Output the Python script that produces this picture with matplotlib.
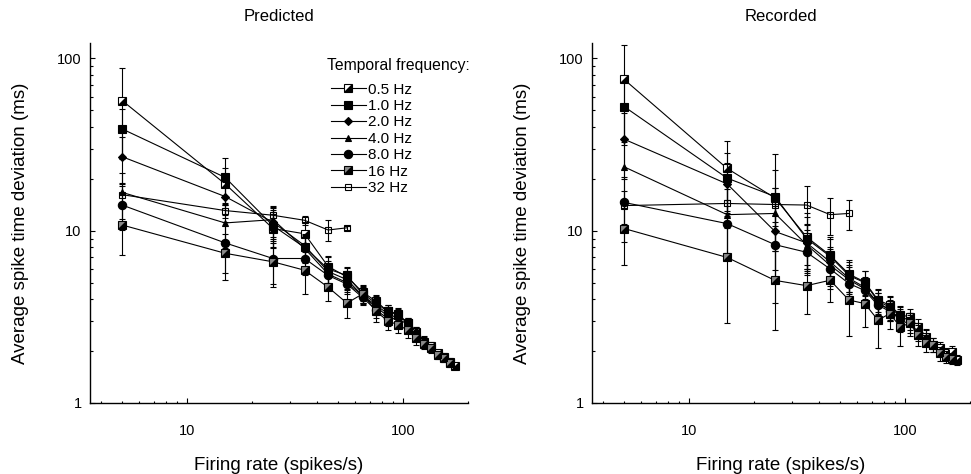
import matplotlib
matplotlib.use("Agg")
import matplotlib.pyplot as plt
from matplotlib.path import Path
from matplotlib.ticker import LogLocator, NullFormatter, FixedLocator, FixedFormatter

plt.rcParams['font.family'] = ['Liberation Sans', 'DejaVu Sans']

# firing-rate bins (spikes/s)
rates = [5, 15, 25, 35, 45, 55, 65, 75, 85, 95, 105, 115, 125, 135, 145, 155, 165, 175]

freq_labels = ['0.5 Hz', '1.0 Hz', '2.0 Hz', '4.0 Hz', '8.0 Hz', '16 Hz', '32 Hz']

# Predicted: mean spike time deviation (ms) and error
pred_05 = [57, 18.7, 10.3, 9.6, 6.2, 5.4, 4.4, 3.9, 3.4, 3.25, 2.9, 2.6, 2.27, 2.13, 1.94, 1.86, 1.74, 1.64]
pred_05_err = [31, 4.5, 2.2, 1.6, 0.9, 0.7, 0.45, 0.35, 0.3, 0.25, 0.22, 0.18, 0.15, 0.12, 0.1, 0.09, 0.08, 0.07]
pred_10 = [39, 20.4, 10.7, 8.0, 6.0, 5.5, 4.3, 3.8, 3.4, 3.3, 2.9]
pred_10_err = [12, 6.2, 2.8, 1.5, 1.0, 0.7, 0.5, 0.4, 0.3, 0.25, 0.2]
pred_20 = [26.9, 15.8, 11.2, 8.2, 5.8, 5.2, 4.2, 3.7, 3.3, 3.1, 2.85, 2.6, 2.3]
pred_20_err = [8, 3.5, 2.5, 1.4, 0.9, 0.6, 0.45, 0.35, 0.3, 0.25, 0.2, 0.18, 0.15]
pred_40 = [16.7, 11.1, 11.6, 7.9, 5.6, 5.0, 4.2, 3.6, 3.2, 3.0]
pred_40_err = [5, 3.2, 2.4, 1.3, 0.8, 0.6, 0.4, 0.35, 0.3, 0.25]
pred_80 = [14.1, 8.5, 6.9, 6.9, 5.5, 4.9, 4.1, 3.46, 3.1]
pred_80_err = [4, 2.8, 2.0, 1.4, 0.9, 0.6, 0.4, 0.35, 0.3]
pred_16 = [10.8, 7.4, 6.6, 5.9, 4.7, 3.8, 4.3, 3.4, 3.0, 2.84, 2.65, 2.37, 2.2, 2.08, 1.9, 1.82, 1.7]
pred_16_err = [3.6, 2.2, 1.9, 1.6, 0.8, 0.7, 0.4, 0.45, 0.35, 0.3, 0.25, 0.2, 0.15, 0.12, 0.1, 0.09, 0.08]
pred_32 = [16.2, 13.1, 12.3, 11.5, 10.1, 10.4]
pred_32_err = [2.5, 1.3, 0.9, 0.7, 1.4, 0.3]

# Recorded
rec_05 = [75.6, 23, 15.5, 9.2, 7.2, 5.6, 5.05, 3.96, 3.7, 3.24, 3.17, 2.77, 2.43, 2.17, 2.08, 1.94, 1.99, 1.78]
rec_05_err = [44, 10, 7, 3.5, 2.0, 1.2, 0.8, 0.6, 0.5, 0.4, 0.35, 0.3, 0.25, 0.2, 0.18, 0.15, 0.15, 0.12]
rec_10 = [52.6, 20.2, 15.8, 9.0, 7.1, 5.5, 5.0, 3.9, 3.6, 3.2, 3.0]
rec_10_err = [20, 8, 12, 3, 1.8, 1.1, 0.8, 0.6, 0.5, 0.4, 0.35]
rec_20 = [34, 18.7, 9.9, 8.5, 6.6, 5.3, 4.7, 3.8, 3.5, 3.0, 2.9, 2.6, 2.4]
rec_20_err = [14, 6, 4, 2.5, 1.5, 1.0, 0.7, 0.55, 0.45, 0.4, 0.35, 0.3, 0.25]
rec_40 = [23.5, 12.4, 12.6, 8.3, 6.3, 5.2, 4.6, 3.8, 3.46, 3.1]
rec_40_err = [10, 5, 5, 2.5, 1.5, 1.0, 0.7, 0.55, 0.45, 0.4]
rec_80 = [14.6, 11.0, 8.3, 7.5, 6.0, 4.94, 4.5, 3.7, 3.4]
rec_80_err = [6, 4, 3, 2, 1.4, 0.9, 0.7, 0.5, 0.4]
rec_16 = [10.3, 7.0, 5.15, 4.8, 5.16, 3.96, 3.78, 3.03, 3.3, 2.77, 2.9, 2.48, 2.22, 2.17, 1.94, 1.86, 1.8]
rec_16_err = [4, 4.1, 2.5, 1.5, 1.3, 1.5, 1.0, 0.95, 0.6, 0.63, 0.45, 0.35, 0.25, 0.2, 0.18, 0.15, 0.12]
rec_32 = [14.0, 14.4, 14.2, 14.1, 12.4, 12.6]
rec_32_err = [3, 4, 3.5, 4, 3, 2.5]

predicted = [(pred_05, pred_05_err), (pred_10, pred_10_err), (pred_20, pred_20_err),
             (pred_40, pred_40_err), (pred_80, pred_80_err), (pred_16, pred_16_err),
             (pred_32, pred_32_err)]
recorded = [(rec_05, rec_05_err), (rec_10, rec_10_err), (rec_20, rec_20_err),
            (rec_40, rec_40_err), (rec_80, rec_80_err), (rec_16, rec_16_err),
            (rec_32, rec_32_err)]

# lower-right black triangle for the half-filled squares
tri = Path([(-1, -1), (1, -1), (1, 1), (-1, -1)], [Path.MOVETO, Path.LINETO, Path.LINETO, Path.CLOSEPOLY])

# marker, size, face colour, half-fill overlay
styles = [
    ('s', 6, 'white', True),
    ('s', 6, 'black', False),
    ('D', 4.5, 'black', False),
    ('^', 5, 'black', False),
    ('o', 6, 'black', False),
    ('s', 6, '#8a8a8a', True),
    ('s', 5, 'none', False),
]

fig = plt.figure(figsize=(9.71, 4.74), dpi=100)
ax1 = fig.add_axes([90 / 971, 71 / 474, 378 / 971, 360 / 474])
ax2 = fig.add_axes([592 / 971, 71 / 474, 378 / 971, 360 / 474])


def draw(ax, data, title):
    handles = []
    for (y, e), (m, ms, fc, half) in zip(data, styles):
        x = rates[:len(y)]
        ax.errorbar(x, y, yerr=e, fmt='none', ecolor='black', elinewidth=0.8,
                    capsize=2.5, capthick=0.8)
        ln, = ax.plot(x, y, '-', color='black', lw=0.8, marker=m, ms=ms,
                      mfc=fc, mec='black', mew=0.8)
        if half:
            ov, = ax.plot(x, y, ls='none', marker=tri, ms=ms, color='black', mew=0)
            handles.append((ln, ov))
        else:
            handles.append(ln)
    ax.set_xscale('log')
    ax.set_yscale('log')
    ax.set_xlim(3.55, 200)
    ax.set_ylim(1, 123)
    ax.xaxis.set_major_locator(FixedLocator([10, 100]))
    ax.xaxis.set_major_formatter(FixedFormatter(['10', '100']))
    ax.xaxis.set_minor_locator(LogLocator(base=10, subs=range(2, 10)))
    ax.xaxis.set_minor_formatter(NullFormatter())
    ax.yaxis.set_major_locator(FixedLocator([1, 10, 100]))
    ax.yaxis.set_major_formatter(FixedFormatter(['1', '10', '100']))
    ax.yaxis.set_minor_locator(LogLocator(base=10, subs=range(2, 10)))
    ax.yaxis.set_minor_formatter(NullFormatter())
    ax.tick_params(which='major', direction='in', length=3.5, width=0.8, labelsize=10.5)
    ax.tick_params(axis='x', which='major', pad=15)
    ax.tick_params(axis='y', which='major', pad=6)
    ax.tick_params(which='minor', direction='in', length=1.8, width=0.8)
    ax.spines['top'].set_visible(False)
    ax.spines['right'].set_visible(False)
    ax.spines['left'].set_linewidth(1.0)
    ax.spines['bottom'].set_linewidth(1.0)
    ax.set_title(title, fontsize=12, pad=16)
    ax.set_xlabel('Firing rate (spikes/s)', fontsize=13.5, labelpad=13.5)
    ax.set_ylabel('Average spike time deviation (ms)', fontsize=13.5, labelpad=20)
    return handles


h = draw(ax1, predicted, 'Predicted')
draw(ax2, recorded, 'Recorded')

ax1.text(1.005, 0.937, 'Temporal frequency:', transform=ax1.transAxes,
         ha='right', va='center', fontsize=11.3)
leg = ax1.legend(h, freq_labels, loc='upper left', bbox_to_anchor=(0.637, 0.89),
                 frameon=False, fontsize=11, handlelength=2.3, handletextpad=0.15,
                 labelspacing=0.16, borderpad=0, borderaxespad=0)

fig.savefig('out.png', dpi=100)
